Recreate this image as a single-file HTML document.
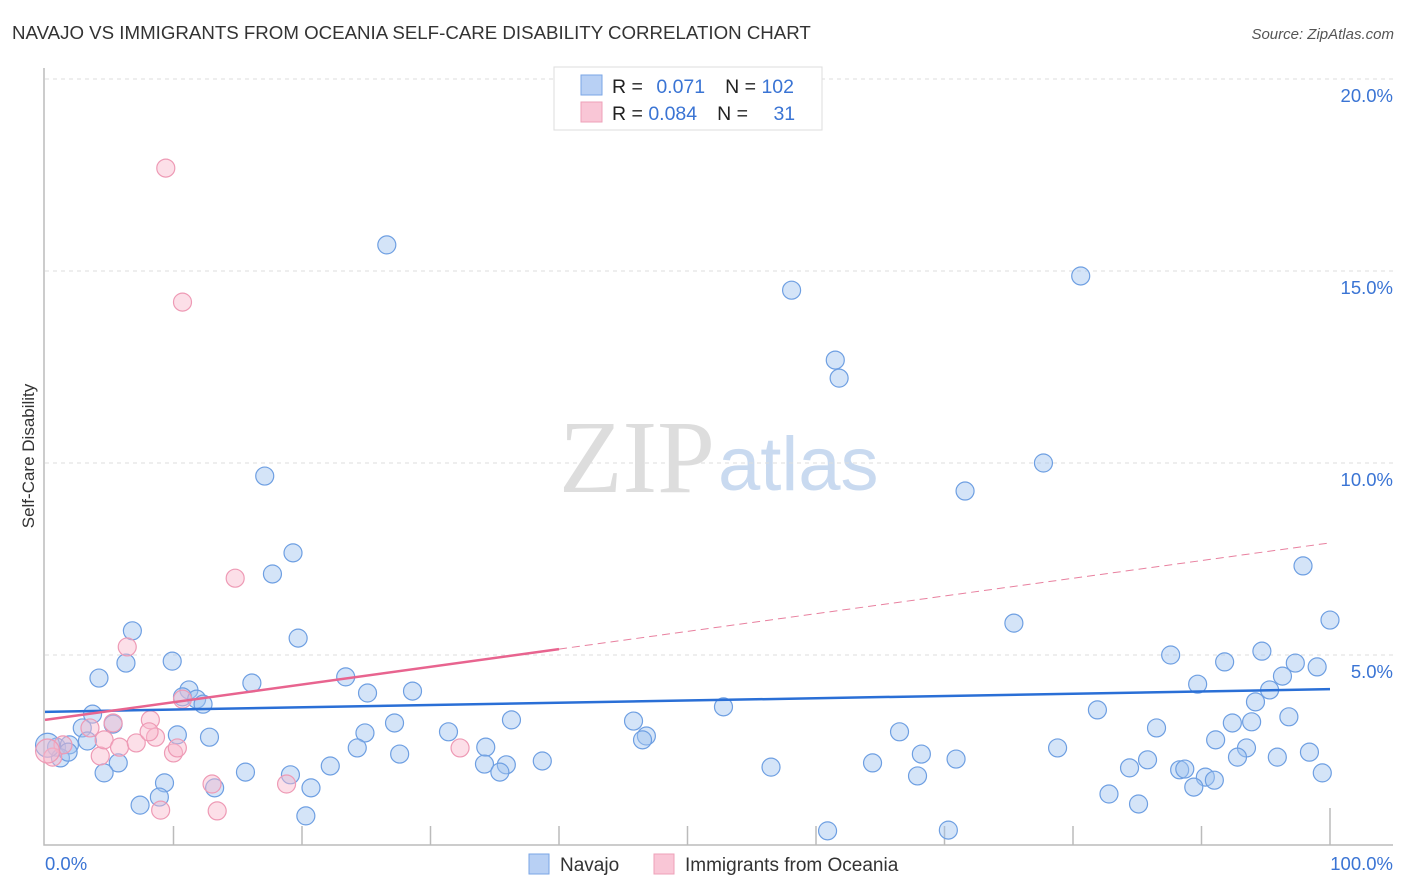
<!DOCTYPE html>
<html><head><meta charset="utf-8"><style>
body{margin:0;background:#fff;font-family:"Liberation Sans",sans-serif}
svg{display:block}
</style></head><body>
<svg id="chart" width="1406" height="892" viewBox="0 0 1406 892">
<text x="12" y="39" font-size="18.7" fill="#333">NAVAJO VS IMMIGRANTS FROM OCEANIA SELF-CARE DISABILITY CORRELATION CHART</text>
<text x="1394" y="39" font-size="15" font-style="italic" fill="#555" text-anchor="end">Source: ZipAtlas.com</text>
<text x="715" y="492" font-size="104" font-family="Liberation Serif,serif" fill="#ddd" text-anchor="end">ZIP</text>
<text x="718" y="490" font-size="76" fill="#c9daf0">atlas</text>
<g id="grid"></g><g id="marks"></g>
<text transform="translate(34,456) rotate(-90)" font-size="17" fill="#333" text-anchor="middle">Self-Care Disability</text>
<g>
<rect x="554" y="67" width="268" height="63" fill="#fff" stroke="#ddd"/>
<rect x="581" y="75" width="21" height="20" fill="#b8d0f4" stroke="#7aa6e6"/>
<rect x="581" y="102" width="21" height="20" fill="#f9c6d6" stroke="#eea0b8"/>
<text x="612" y="93" font-size="19.5" fill="#222">R = <tspan fill="#3a74d4" dx="8">0.071</tspan><tspan dx="20">N = </tspan><tspan fill="#3a74d4">102</tspan></text>
<text x="612" y="120" font-size="19.5" fill="#222">R = <tspan fill="#3a74d4">0.084</tspan><tspan dx="20">N = </tspan><tspan fill="#3a74d4" dx="20">31</tspan></text>
</g>
<g>
<rect x="529" y="854" width="20" height="20" fill="#b8d0f4" stroke="#7aa6e6"/>
<text x="560" y="871" font-size="19" fill="#333">Navajo</text>
<rect x="654" y="854" width="20" height="20" fill="#f9c6d6" stroke="#eea0b8"/>
<text x="685" y="871" font-size="19" fill="#333">Immigrants from Oceania</text>
</g>
</svg>
<script>
const yTicks=[5,10,15,20];
const yTickLabels=["5.0%","10.0%","15.0%","20.0%"];
const xTicks=[10,20,30,40,50,60,70,80,90,100];
const navX=[26.6,58.1,80.6,61.5,61.8,77.7,71.6,17.1,19.3,17.7,97.9,100,75.4,19.7,6.8,6.3,9.9,4.2,87.6,91.8,94.7,97.3,99.0,96.3,89.7,95.3,94.2,23.4,16.1,11.2,10.7,11.8,12.3,25.1,28.6,52.8,81.9,3.7,5.3,27.2,36.3,45.8,86.5,92.4,93.9,96.8,2.9,10.3,12.8,24.9,31.4,46.8,46.5,66.5,91.1,3.3,0.9,1.9,24.3,34.3,78.8,93.5,98.4,1.2,1.8,27.6,68.2,5.7,22.2,34.2,35.9,38.7,56.5,64.4,70.9,85.8,92.8,95.9,84.4,88.3,88.7,4.6,15.6,19.1,35.4,67.9,90.3,91.0,99.4,9.3,20.7,13.2,89.4,8.9,82.8,7.4,85.1,20.3,60.9,70.3,0.2];
const navY=[15.68,14.5,14.87,12.68,12.21,10.0,9.27,9.66,7.66,7.11,7.32,5.91,5.83,5.44,5.63,4.79,4.84,4.40,5.0,4.82,5.10,4.79,4.69,4.45,4.24,4.09,3.78,4.43,4.27,4.09,3.91,3.85,3.72,4.01,4.06,3.65,3.57,3.46,3.20,3.23,3.31,3.28,3.10,3.23,3.26,3.39,3.10,2.92,2.86,2.97,3.00,2.89,2.79,3.00,2.79,2.76,2.60,2.66,2.58,2.60,2.58,2.58,2.47,2.32,2.47,2.42,2.42,2.19,2.11,2.16,2.14,2.24,2.08,2.19,2.29,2.27,2.34,2.34,2.06,2.01,2.03,1.93,1.95,1.88,1.95,1.85,1.82,1.74,1.93,1.67,1.54,1.54,1.56,1.30,1.38,1.09,1.12,0.81,0.42,0.44,2.65];
const ocX=[9.4,10.7,14.8,6.4,5.3,8.2,4.3,4.6,5.8,7.1,8.6,10.0,10.3,13.0,18.8,9.0,13.4,3.5,1.4,0.6,10.7,8.1,32.3,0.2];
const ocY=[17.68,14.19,7.0,5.21,3.23,3.31,2.37,2.79,2.60,2.71,2.86,2.45,2.58,1.64,1.64,0.96,0.94,3.10,2.66,2.34,3.85,3.0,2.58,2.5];
const navTrend=[3.52,4.11];
const ocTrend=[3.31,7.92];
const X0=45,X1=1330,Y0=847,PY=38.4;
const sx=v=>X0+(X1-X0)*v/100, sy=v=>Y0-PY*v;
const NS="http://www.w3.org/2000/svg";
function mk(p,t,a){const e=document.createElementNS(NS,t);for(const k in a)e.setAttribute(k,a[k]);p.appendChild(e);return e;}
const g=document.getElementById('grid'), m=document.getElementById('marks');
yTicks.forEach((t,i)=>{
  const l=mk(g,'line',{x1:45,x2:1393,y1:sy(t),y2:sy(t),stroke:'#ddd','stroke-dasharray':'4,4'});
  
  
  const tx=mk(g,'text',{x:1393,y:sy(t)+23,'font-size':18.5,fill:'#3a74d4','text-anchor':'end'});
  tx.textContent=yTickLabels[i];
  
  
});
const ax=mk(g,'path',{d:'M44,68V845H1393',fill:'none',stroke:'#bbb','stroke-width':1.5});


xTicks.forEach(t=>{
  const l=mk(g,'line',{x1:sx(t),x2:sx(t),y1:t==100?808:826,y2:845,stroke:'#bbb','stroke-width':1.5});
  
  
});
[['0.0%',45,'start'],['100.0%',1393,'end']].forEach(a=>{
  const t=mk(g,'text',{x:a[1],y:870,'font-size':18.5,fill:'#3a74d4','text-anchor':a[2]});
  t.textContent=a[0];
  
  
});
navX.forEach((x,i)=>{
  const c=mk(m,'circle',{cx:sx(x),cy:sy(navY[i]),r:i==navX.length-1?12:9,fill:'rgba(160,195,240,0.45)',stroke:'#6e9fe2','stroke-width':1.2});
  
  
});
ocX.forEach((x,i)=>{
  const c=mk(m,'circle',{cx:sx(x),cy:sy(ocY[i]),r:i==ocX.length-1?12:9,fill:'rgba(248,185,205,0.45)',stroke:'#ee9ab5','stroke-width':1.2});
  
  
});
const bl=mk(m,'line',{x1:sx(0),y1:sy(navTrend[0]),x2:sx(100),y2:sy(navTrend[1]),stroke:'#2a6fd6','stroke-width':2.5});


const ocAt=v=>ocTrend[0]+(ocTrend[1]-ocTrend[0])*v/100;
const pl=mk(m,'line',{x1:sx(0),y1:sy(ocAt(0)),x2:sx(40),y2:sy(ocAt(40)),stroke:'#e8648f','stroke-width':2.5});


const pd=mk(m,'line',{x1:sx(40),y1:sy(ocAt(40)),x2:sx(100),y2:sy(ocAt(100)),stroke:'#e8809f','stroke-width':1,'stroke-dasharray':'8,5'});


</script>
</body></html>
